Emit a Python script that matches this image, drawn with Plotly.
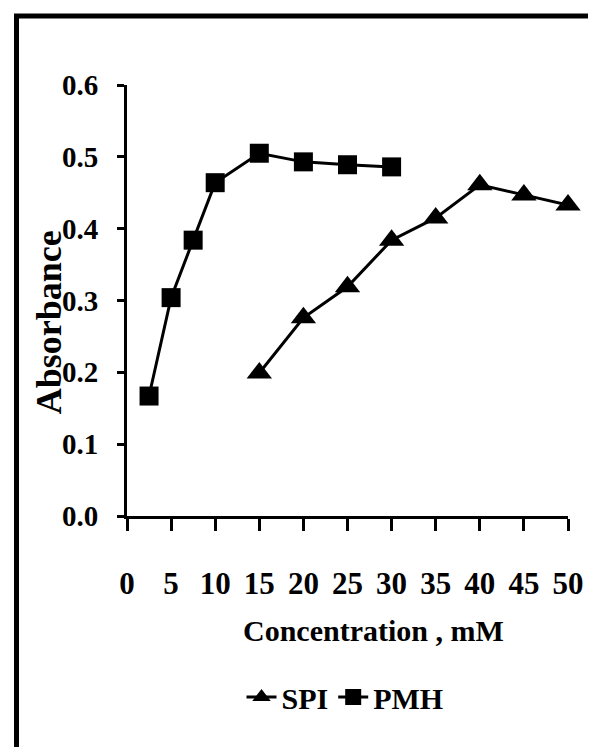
import plotly.graph_objects as go

# Data
pmh_x = [2.5, 5, 7.5, 10, 15, 20, 25, 30]
pmh_y = [0.167, 0.304, 0.384, 0.464, 0.505, 0.493, 0.489, 0.486]
spi_x = [15, 20, 25, 30, 35, 40, 45, 50]
spi_y = [0.199, 0.276, 0.319, 0.384, 0.415, 0.461, 0.447, 0.433]
x_ticks = [0, 5, 10, 15, 20, 25, 30, 35, 40, 45, 50]
y_ticks = [0.0, 0.1, 0.2, 0.3, 0.4, 0.5, 0.6]

FONT = "Times New Roman"

fig = go.Figure()
fig.add_trace(go.Scatter(
    x=spi_x, y=spi_y, name="SPI", mode="lines+markers",
    line=dict(color="black", width=3),
    marker=dict(symbol="triangle-up", size=22, color="black"),
    cliponaxis=False,
))
fig.add_trace(go.Scatter(
    x=pmh_x, y=pmh_y, name="PMH", mode="lines+markers",
    line=dict(color="black", width=3),
    marker=dict(symbol="square", size=19, color="black"),
    cliponaxis=False,
))

OFF = 8  # page body margin
W, H = 596 - OFF, 747 - OFF
# plot area in screen pixels (reference)
SL, SR, ST, SB = 127, 570, 85, 516
L, T = SL - OFF, ST - OFF
R = W - (SR - OFF)
B = H - (SB - OFF)
pw, ph = W - L - R, H - T - B

def px(xs):
    return (xs - SL) / pw

def py(ys):
    return (SB - ys) / ph

fig.update_layout(
    width=W, height=H,
    margin=dict(l=L, r=R, t=T, b=B),
    paper_bgcolor="white", plot_bgcolor="white",
    font=dict(family=FONT, color="black"),
    showlegend=True,
    legend=dict(
        orientation="h", x=px(346), y=py(697), xanchor="center", yanchor="middle",
        font=dict(family=FONT, size=30, color="black", weight="bold"),
        itemwidth=30, tracegroupgap=0,
    ),
    xaxis=dict(
        range=[0, 50], tickvals=x_ticks, ticktext=[str(v) for v in x_ticks],
        showline=True, linecolor="black", linewidth=3,
        ticks="outside", ticklen=12, tickwidth=3, tickcolor="black",
        showgrid=False, zeroline=False,
        tickfont=dict(family=FONT, size=31, color="black", weight="bold"),
        ticklabelstandoff=26,
    ),
    yaxis=dict(
        range=[0, 0.6], tickvals=y_ticks, ticktext=[f"{v:.1f}" for v in y_ticks],
        showline=True, linecolor="black", linewidth=3,
        ticks="outside", ticklen=7, tickwidth=3, tickcolor="black",
        showgrid=False, zeroline=False,
        tickfont=dict(family=FONT, size=29, color="black", weight="bold"),
        ticklabelstandoff=13,
    ),
    annotations=[
        dict(text="Concentration , mM", xref="paper", yref="paper",
             x=px(375), y=py(630), xanchor="center", yanchor="middle",
             showarrow=False,
             font=dict(family=FONT, size=30, color="black", weight="bold")),
        dict(text="Absorbance", xref="paper", yref="paper",
             x=px(49), y=py(322), xanchor="center", yanchor="middle",
             showarrow=False, textangle=-90,
             font=dict(family=FONT, size=36, color="black", weight="bold")),
    ],
    shapes=[
        dict(type="rect", xref="paper", yref="paper",
             x0=px(16), x1=px(640), y0=py(790), y1=py(16),
             line=dict(color="black", width=5), layer="below"),
    ],
)

fig.write_html("out.html")
